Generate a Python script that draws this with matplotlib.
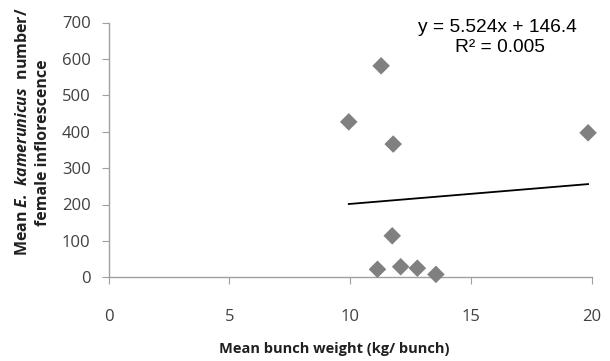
import matplotlib
matplotlib.use("Agg")
import matplotlib.pyplot as plt
import numpy as np

# Data
bunch_weight = [9.94, 11.28, 11.78, 11.74, 11.13, 12.09, 12.78, 13.55, 19.85]
weevil_number = [427, 581, 366, 114, 22, 29, 25, 8, 397]
slope, intercept = 5.524, 146.4
x_ticks = [0, 5, 10, 15, 20]
y_ticks = [0, 100, 200, 300, 400, 500, 600, 700]

plt.rcParams['mathtext.fontset'] = 'custom'
plt.rcParams['mathtext.bfit'] = 'Open Sans:italic:bold'
plt.rcParams['mathtext.rm'] = 'Open Sans'
plt.rcParams['mathtext.bf'] = 'Open Sans:bold'

fig = plt.figure(figsize=(6.10, 3.61), dpi=100)
ax = fig.add_axes([108.7/610, 1-277.3/361, (591.7-108.7)/610, (277.3-22.5)/361])

ax.scatter(bunch_weight, weevil_number, marker='D', s=80, color='#808080',
           edgecolors='none', zorder=3, clip_on=False)
xl = np.array([min(bunch_weight), max(bunch_weight)])
ax.plot(xl, slope*xl + intercept, color='black', lw=1.3, zorder=2)

ax.set_xlim(0, 20)
ax.set_ylim(0, 700)
ax.set_xticks(x_ticks)
ax.set_yticks(y_ticks)
for s in ['top', 'right']:
    ax.spines[s].set_visible(False)
for s in ['left', 'bottom']:
    ax.spines[s].set_color('#a0a0a0')
    ax.spines[s].set_linewidth(1.0)
ax.tick_params(axis='both', direction='out', color='#a0a0a0', length=5,
               labelsize=12, labelcolor='#404040')
ax.tick_params(axis='x', pad=18)
ax.tick_params(axis='y', pad=8)
for lab in ax.get_xticklabels() + ax.get_yticklabels():
    lab.set_family('Open Sans')

fig.text(334/610, 1-349/361, 'Mean bunch weight (kg/ bunch)', ha='center', va='center',
         fontsize=10.5, fontweight='bold', family='Open Sans', color='#202020')
fig.text(23/610, 1-132/361, r'Mean $\mathbfit{E.\ kamerunicus}$  number/', rotation=90,
         ha='center', va='center', fontsize=11.5, fontweight='bold', family='Open Sans',
         color='#202020')
fig.text(43/610, 1-143/361, 'female inflorescence', rotation=90,
         ha='center', va='center', fontsize=11.5, fontweight='bold', family='Open Sans',
         color='#202020')

fig.text(497/610, 1-27/361, 'y = 5.524x + 146.4', ha='center', va='center',
         fontsize=13.8, family='Liberation Sans', color='black')
fig.text(500/610, 1-47/361, 'R² = 0.005', ha='center', va='center',
         fontsize=13.8, family='Liberation Sans', color='black')

fig.savefig('out.png', dpi=100)
